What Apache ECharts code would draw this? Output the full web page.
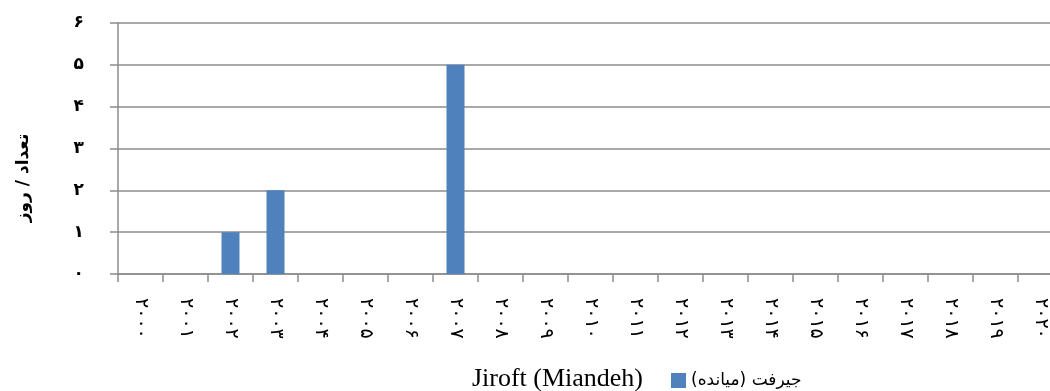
<!DOCTYPE html>
<html>
<head>
<meta charset="utf-8">
<script src="https://cdn.jsdelivr.net/npm/echarts@6/dist/echarts.min.js"></script>
<style>
  html, body { margin: 0; padding: 0; background: #fff; }
  #chart { width: 1050px; height: 391px; }
</style>
</head>
<body>
<div id="chart"></div>
<script>
// Years on the category axis (Persian digits)
const years = ['۲۰۰۰','۲۰۰۱','۲۰۰۲','۲۰۰۳','۲۰۰۴','۲۰۰۵','۲۰۰۶','۲۰۰۷','۲۰۰۸','۲۰۰۹','۲۰۱۰',
               '۲۰۱۱','۲۰۱۲','۲۰۱۳','۲۰۱۴','۲۰۱۵','۲۰۱۶','۲۰۱۷','۲۰۱۸','۲۰۱۹','۲۰۲۰'];
// Days per year for the station
const counts = [0, 0, 1, 2, 0, 0, 0, 5, 0, 0, 0, 0, 0, 0, 0, 0, 0, 0, 0, 0, 0];
// Value-axis tick labels
const yTicks = ['۰','۱','۲','۳','۴','۵','۶'];

const seriesName = 'جیرفت (میانده)';
const seriesNameEn = 'Jiroft (Miandeh)';
const yTitle = 'تعداد / روز';

const gray = '#8c8c8c';
const chart = echarts.init(document.getElementById('chart'), null, { renderer: 'canvas' });

chart.setOption({
  animation: false,
  backgroundColor: '#ffffff',
  // plot area runs past the right edge of the canvas
  grid: { left: 118, top: 23, width: 945, bottom: 117, containLabel: false, outerBoundsMode: 'none' },
  legend: {
    data: [seriesName],
    left: 666, top: 367,
    icon: 'rect', itemWidth: 15, itemHeight: 15, itemGap: 4,
    textStyle: { fontFamily: '"DejaVu Sans"', fontSize: 17, color: '#000' }
  },
  graphic: [
    {
      type: 'text', right: 1050 - 643, top: 366,
      style: { text: seriesNameEn, fontFamily: '"Liberation Serif"', fontSize: 26, fill: '#000' }
    },
    {
      type: 'text', x: 24, y: 178, rotation: Math.PI / 2,
      style: { text: yTitle, fontFamily: '"DejaVu Sans"', fontWeight: 'bold', fontSize: 17,
               fill: '#000', align: 'center', verticalAlign: 'middle' }
    }
  ],
  xAxis: {
    type: 'category',
    data: years,
    axisLine: { show: true, lineStyle: { color: gray, width: 1.5 } },
    axisTick: { show: true, alignWithLabel: false, length: 8, lineStyle: { color: gray, width: 1.5 } },
    axisLabel: {
      interval: 0, rotate: -90, margin: 24,
      fontFamily: '"DejaVu Sans"', fontSize: 19, color: '#000'
    },
    splitLine: { show: false }
  },
  yAxis: {
    type: 'value',
    min: 0, max: 6, interval: 1,
    axisLine: { show: true, lineStyle: { color: gray, width: 1.5 } },
    axisTick: { show: true, length: 8, lineStyle: { color: gray, width: 1.5 } },
    axisLabel: {
      margin: 34, fontFamily: '"DejaVu Sans"', fontSize: 17, fontWeight: 'bold', color: '#000',
      formatter: v => yTicks[v]
    },
    splitLine: { show: true, lineStyle: { color: gray, width: 1.5 } }
  },
  series: [{
    name: seriesName,
    type: 'bar',
    data: counts,
    barWidth: 18,
    itemStyle: { color: '#4f81bd' }
  }]
});
</script>
</body>
</html>
